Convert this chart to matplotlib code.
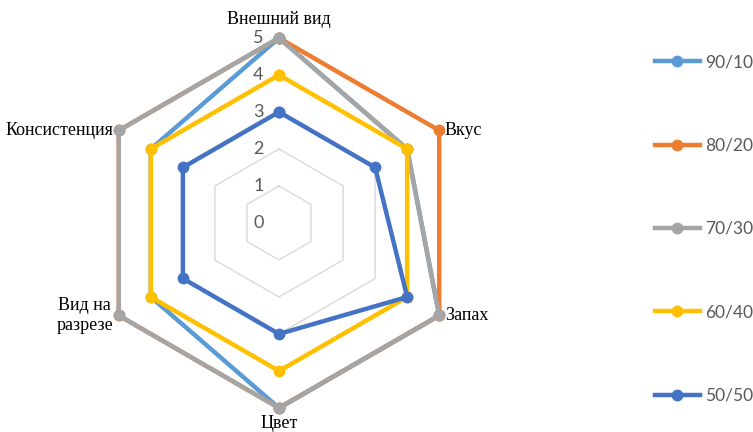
import numpy as np
import matplotlib
matplotlib.use("Agg")
import matplotlib.pyplot as plt
from matplotlib.lines import Line2D

categories = ["Внешний вид", "Вкус", "Запах", "Цвет", "Вид на\nразрезе", "Консистенция"]
series_names = ["90/10", "80/20", "70/30", "60/40", "50/50"]
s_90_10 = [5, 4, 5, 5, 4, 4]
s_80_20 = [5, 5, 5, 5, 5, 5]
s_70_30 = [5, 4, 5, 5, 5, 5]
s_60_40 = [4, 4, 4, 4, 4, 4]
s_50_50 = [3, 3, 4, 3, 3, 3]
levels = [0, 1, 2, 3, 4, 5]
colors = ["#5B9BD5", "#ED7D31", "#A5A5A5", "#FFC000", "#4472C4"]

series = [s_90_10, s_80_20, s_70_30, s_60_40, s_50_50]

fig = plt.figure(figsize=(7.53, 4.32), dpi=100)
ax = fig.add_axes([0.1248, 0.0556, 0.4914, 0.8565], projection="polar")
ax.set_theta_offset(np.pi / 2)
ax.set_theta_direction(-1)
ax.set_ylim(0, 5)
ax.grid(False)
ax.spines["polar"].set_visible(False)
ax.set_xticks([])
ax.set_yticks([])
ax.patch.set_visible(False)

n = len(categories)
theta = np.arange(n) * 2 * np.pi / n
theta_closed = np.append(theta, theta[0])

# hexagonal grid rings
for lvl in levels[1:]:
    ax.plot(theta_closed, [lvl] * (n + 1), color="#D9D9D9", lw=1.0, zorder=1)

# radial value labels along the top spoke
for lvl in levels:
    ax.annotate(str(lvl), xy=(0, lvl), xytext=(-11, 0), textcoords="offset points",
                ha="right", va="center", fontsize=13, color="#595959",
                family="Lato", zorder=5)

# data series
for name, vals, c in zip(series_names, series, colors):
    v = np.append(vals, vals[0])
    ax.plot(theta_closed, v, color=c, lw=3.2, marker="o", ms=7.5,
            solid_joinstyle="round", label=name, zorder=3, clip_on=False)

# category labels around the chart
lab_kw = dict(fontsize=13, family="Liberation Serif", color="black",
              textcoords="offset points", annotation_clip=False)
ax.annotate(categories[0], xy=(theta[0], 5), xytext=(0, 7), ha="center", va="bottom", **lab_kw)
ax.annotate(categories[1], xy=(theta[1], 5), xytext=(4, 0), ha="left", va="center", **lab_kw)
ax.annotate(categories[2], xy=(theta[2], 5), xytext=(4, 0), ha="left", va="center", **lab_kw)
ax.annotate(categories[3], xy=(theta[3], 5), xytext=(0, -5), ha="center", va="top", **lab_kw)
ax.annotate(categories[4], xy=(theta[4], 5), xytext=(-4, 0), ha="right", va="center",
            multialignment="center", linespacing=1.2, **lab_kw)
ax.annotate(categories[5], xy=(theta[5], 5), xytext=(-4, 0), ha="right", va="center", **lab_kw)

handles = [Line2D([], [], color=c, lw=3.2, marker="o", ms=7.5) for c in colors]
leg = fig.legend(handles, series_names, loc="upper left", bbox_to_anchor=(0.8698, 0.8745),
                 frameon=False, handlelength=2.59, handletextpad=0.29,
                 labelspacing=3.88, borderpad=0, borderaxespad=0,
                 prop={"family": "Lato", "size": 12.5})
for t in leg.get_texts():
    t.set_color("#595959")

fig.savefig("out.png", dpi=100)
